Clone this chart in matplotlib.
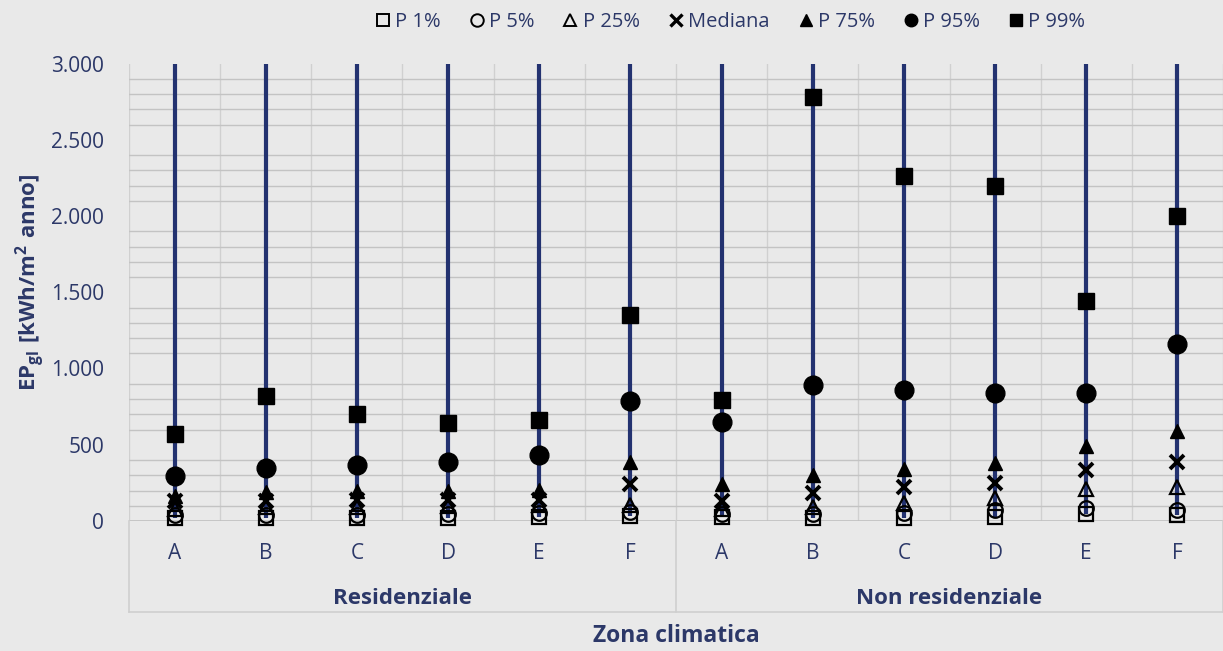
import numpy as np
import matplotlib
matplotlib.use('Agg')
from matplotlib import pyplot as plt
from matplotlib.lines import Line2D

# data (kWh/m2 anno)
zone = ['A', 'B', 'C', 'D', 'E', 'F']
groups = ['Residenziale', 'Non residenziale']
categories = zone + zone

p1 = [20, 20, 20, 20, 25, 30, 25, 20, 20, 25, 45, 40]
p5 = [40, 40, 40, 45, 50, 60, 45, 45, 50, 70, 85, 75]
p25 = [80, 90, 95, 100, 105, 105, 80, 90, 120, 150, 210, 225]
mediana = [130, 130, 135, 140, 140, 240, 130, 185, 225, 250, 335, 385]
p75 = [165, 190, 195, 195, 205, 385, 240, 300, 340, 380, 490, 590]
p95 = [295, 345, 370, 385, 435, 790, 650, 890, 860, 840, 840, 1160]
p99 = [570, 820, 700, 640, 665, 1350, 795, 2780, 2260, 2200, 1440, 2000]
y_top = 3000  # high line runs past the top of the axis

navy = '#2c3868'
bg = '#e9e9e9'

plt.rcParams['font.family'] = ['Open Sans', 'DejaVu Sans']
plt.rcParams['mathtext.fontset'] = 'custom'
plt.rcParams['mathtext.rm'] = 'Open Sans'
plt.rcParams['mathtext.bf'] = 'Open Sans:bold'

fig = plt.figure(figsize=(12.23, 6.51), dpi=100, facecolor=bg)
ax = fig.add_axes([129 / 1223, 1 - 521 / 651, 1 - 129 / 1223, (521 - 63.5) / 651])
ax.set_facecolor(bg)

x = np.arange(len(categories))

# high-low lines
ax.vlines(x, p1, y_top, color='#233270', lw=3.0, zorder=3)

series = [
    (p1, 's', 'none', 'P 1%', 10.5, 1.6),
    (p5, 'o', 'none', 'P 5%', 10.5, 1.6),
    (p25, '^', 'none', 'P 25%', 10.5, 1.6),
    (mediana, 'x', 'black', 'Mediana', 10.5, 2.8),
    (p75, '^', 'black', 'P 75%', 10.5, 1.0),
    (p95, 'o', 'black', 'P 95%', 13.5, 1.0),
    (p99, 's', 'black', 'P 99%', 12, 1.0),
]
handles = []
for vals, m, fc, lab, ms, mew in series:
    ax.plot(x, vals, ls='none', marker=m, mfc=fc, mec='black', color='black',
            ms=ms, mew=mew, zorder=4, clip_on=False)
    handles.append(Line2D([], [], ls='none', marker=m, mfc=fc, mec='black', color='black',
                          ms=9, mew=1.4 if fc == 'none' else (2.4 if m == 'x' else 1.0),
                          label=lab))

ax.set_xlim(-0.5, 11.39)
ax.set_ylim(0, 3000)

ax.set_yticks(np.arange(0, 3001, 500))
ax.set_yticklabels(['{:,}'.format(v).replace(',', '.') for v in range(0, 3001, 500)])
ax.set_yticks(np.arange(0, 3001, 100), minor=True)
ax.set_xticks(x)
ax.set_xticklabels(categories)
ax.set_xticks(np.arange(-0.5, 12, 1), minor=True)
ax.tick_params(axis='both', which='both', length=0)
ax.tick_params(axis='y', labelsize=15, labelcolor=navy, pad=18)
ax.tick_params(axis='x', labelsize=15, labelcolor=navy, pad=16)

ax.grid(which='minor', axis='y', color='#c3c3c3', lw=1.0, zorder=0)
ax.grid(which='minor', axis='x', color='#d0d0d0', lw=1.0, zorder=0)
ax.set_axisbelow(True)
for s in ax.spines.values():
    s.set_visible(False)
ax.axhline(0, color='#c0c0c0', lw=1.2, zorder=1)

# group box under the categories
tr = ax.get_xaxis_transform()
yb = -(612 - 521) / (521 - 63.5)
for xb in [-0.5, 5.5, 11.5]:
    ax.plot([xb, xb], [0, yb], color='#cfcfcf', lw=1.2, transform=tr, clip_on=False)
ax.plot([-0.5, 11.5], [yb, yb], color='#cfcfcf', lw=1.2, transform=tr, clip_on=False)
yg = -(598 - 521) / (521 - 63.5)
ax.text(2.5, yg, groups[0], transform=tr, ha='center', va='center',
        fontsize=16, fontweight='bold', color=navy)
ax.text(8.5, yg, groups[1], transform=tr, ha='center', va='center',
        fontsize=16, fontweight='bold', color=navy)

fig.text(676 / 1223, 1 - 636 / 651, 'Zona climatica', ha='center', va='center',
         fontsize=16.5, fontweight='bold', color=navy)
fig.text(30 / 1223, 1 - 282 / 651, r'$\mathbf{EP_{gl}\ [kWh/m^2\ anno]}$', rotation=90,
         ha='center', va='center', fontsize=16, color=navy)

leg = fig.legend(handles=handles, loc='center', bbox_to_anchor=(729 / 1223, 1 - 22 / 651),
                 ncol=7, frameon=False, fontsize=14.5, handletextpad=0.1, columnspacing=1.3,
                 handlelength=1.0)
for t in leg.get_texts():
    t.set_color(navy)

fig.savefig('out.png', dpi=100, facecolor=bg)
